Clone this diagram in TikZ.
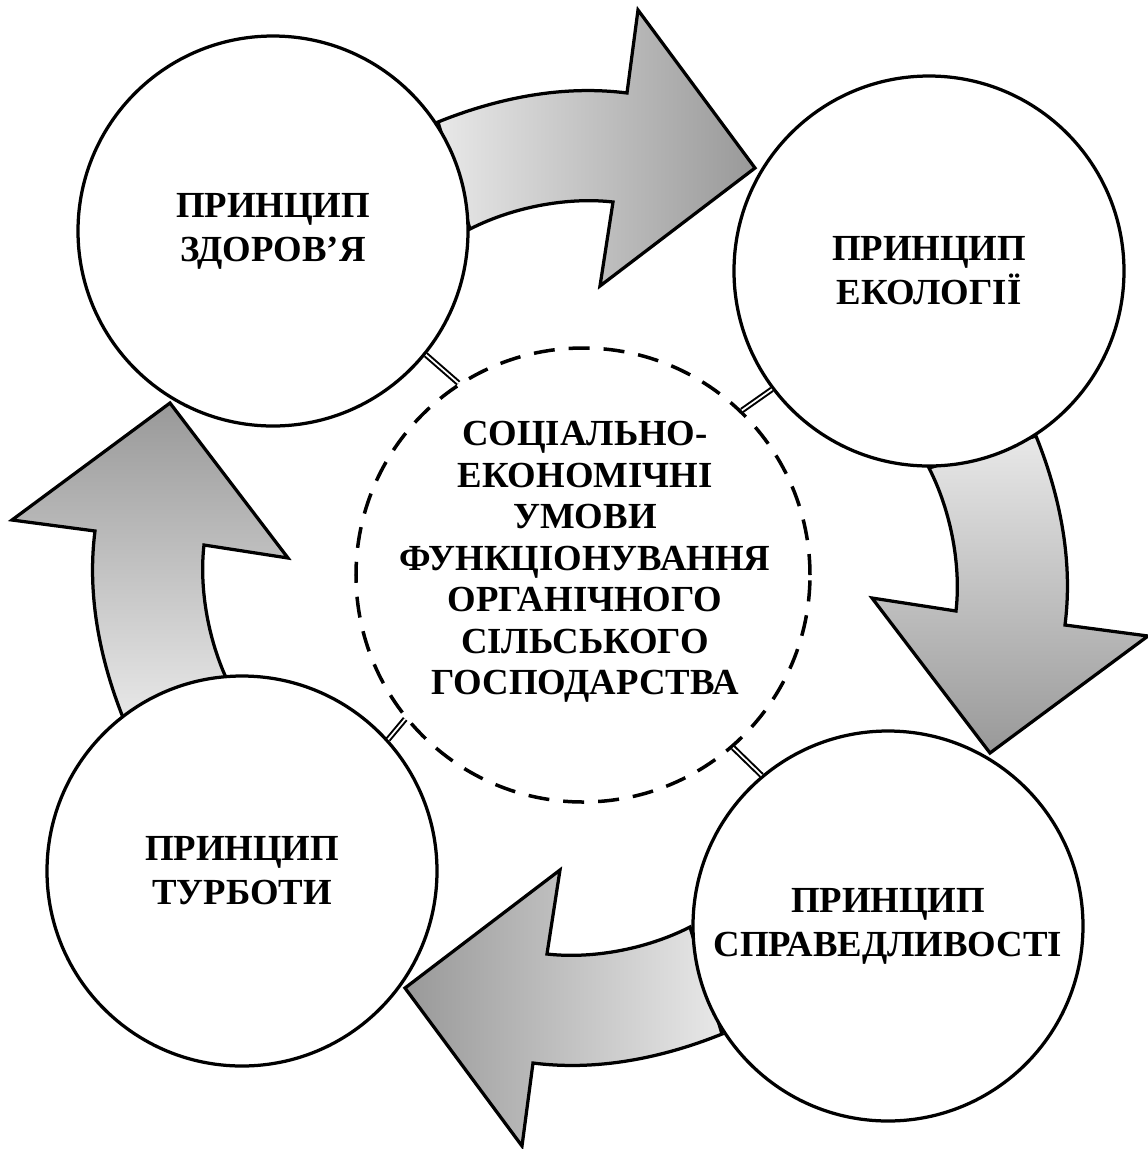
\documentclass[tikz,border=0pt]{standalone}
\usepackage{fontspec}
\setmainfont{Liberation Serif}
\usepackage{tikz}
\usetikzlibrary{positioning}

\begin{document}
\begin{tikzpicture}[x=0.4pt, y=-0.4pt,
		principle/.style={circle, draw, fill=white, line width=1.3pt, minimum size=156pt, inner sep=0pt, align=center, font=\bfseries\fontsize{14.7}{17.6}\selectfont},
		core/.style={circle, draw, line width=1.4pt, dash pattern=on 8.4pt off 5.6pt, minimum size=181.6pt, inner sep=0pt},
		coretext/.style={align=center, font=\bfseries\fontsize{14.7}{16.6}\selectfont},
		flow/.style={draw, line width=1.3pt, line join=miter},
		link/.style={double, line width=0.8pt, double distance=0.7pt}]
	\useasboundingbox (0,0) rectangle (1148,1149);
	
	% 弯箭头
	\shadedraw[flow, left color=gray!18, right color=gray!80]
	(438,122) .. controls (500,97) and (565,85) .. (627,93) -- (638,10) -- (755,168)
	-- (600,286) -- (613,202) .. controls (570,197) and (515,206) .. (470,229) -- cycle;
	\shadedraw[flow, top color=gray!18, bottom color=gray!80]
	(1036,436) .. controls (1061,498) and (1073,563) .. (1065,625) -- (1148,636) -- (990,753)
	-- (872,598) -- (956,611) .. controls (961,568) and (952,513) .. (929,468) -- cycle;
	\shadedraw[flow, right color=gray!18, left color=gray!80]
	(722,1034) .. controls (660,1059) and (595,1071) .. (533,1063) -- (522,1146) -- (405,988)
	-- (560,870) -- (547,954) .. controls (590,959) and (645,950) .. (690,927) -- cycle;
	\shadedraw[flow, bottom color=gray!18, top color=gray!80]
	(124,720) .. controls (99,658) and (87,593) .. (95,531) -- (12,520) -- (170,403)
	-- (288,558) -- (204,545) .. controls (199,588) and (208,643) .. (231,688) -- cycle;
	
	% 四个原则
	\node[principle] (zdorovya) at (273,231) {ПРИНЦИП\\ЗДОРОВ’Я};
	\node[principle] (ekolohii) at (929,271) {ПРИНЦИП\\ЕКОЛОГІЇ};
	\node[principle] (spravedlyvosti) at (888,926) {ПРИНЦИП\\СПРАВЕДЛИВОСТІ};
	\node[principle] (turboty) at (242,871) {ПРИНЦИП\\ТУРБОТИ};
	
	% 中心
	\node[core] (umovy) at (583,575) {};
	\node[coretext] (umovytext) at (585,562) {СОЦІАЛЬНО-\\ЕКОНОМІЧНІ\\УМОВИ\\ФУНКЦІОНУВАННЯ\\ОРГАНІЧНОГО\\СІЛЬСЬКОГО\\ГОСПОДАРСТВА};
	
	% 连线
	\draw[link] (zdorovya.-39) -- (umovy.123);
	\draw[link] (ekolohii.-143) -- (umovy.46);
	\draw[link] (spravedlyvosti.130) -- (umovy.-49);
	\draw[link] (turboty.42) -- (umovy.-141);
\end{tikzpicture}
\end{document}
